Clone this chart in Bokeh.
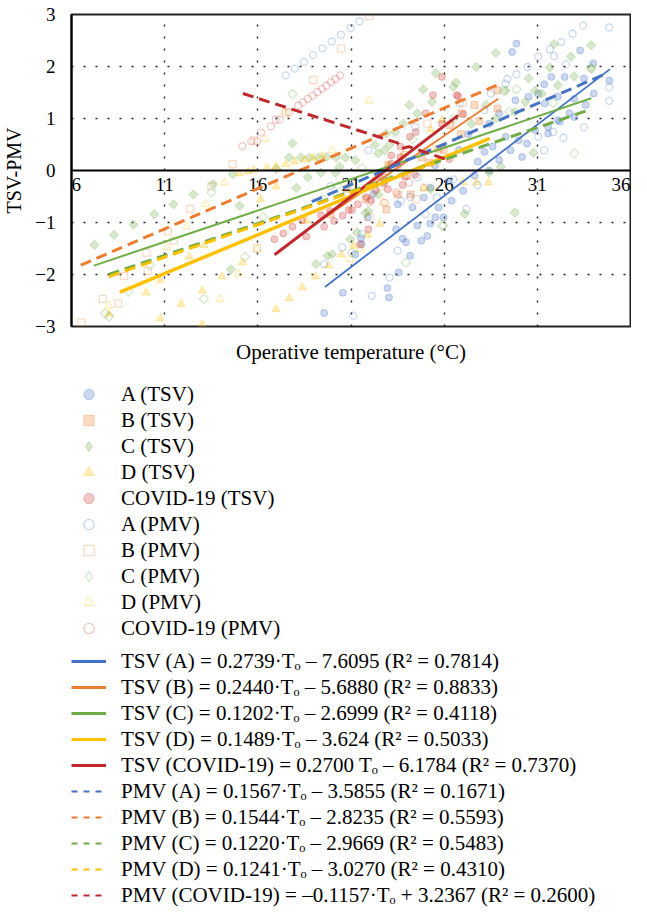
from bokeh.plotting import figure
from bokeh.models import (FixedTicker, Legend, LegendItem, Range1d, Span, ColumnDataSource)
from bokeh.core.properties import value
from bokeh.layouts import column
from bokeh.embed import file_html
from bokeh.resources import INLINE
import math

FONT = "Liberation Serif"

# ---------------- data ----------------
x_ticks = [6, 11, 16, 21, 26, 31, 36]
x_tick_labels = ["6", "11", "16", "21", "26", "31", "36"]
y_ticks = [-3, -2, -1, 0, 1, 2, 3]
y_tick_labels = ["\u22123", "\u22122", "\u22121", "0", "1", "2", "3"]
x_grid = [11, 16, 21, 26, 31]
y_grid = [-2, -1, 1, 2]

A_TSV_T = [19.56, 20.56, 22.95, 23.04, 24.17, 23.56, 23.77, 23.95, 24.77, 25.09, 25.26, 25.53, 24.56,
           23.42, 21.54, 21.58, 21.23, 24.3, 23.51, 24.91, 25.26, 25.7, 26.4, 27.02, 26.23, 25.97,
           27.63, 28.42, 30.18, 29.56, 30.44, 28.95, 27.8, 28.16, 28.6, 29.3, 30.0, 30.88, 31.58,
           32.2, 32.72, 33.6, 34.03, 32.98, 32.1, 31.05, 30.53, 31.4, 29.82, 28.95, 28.42, 33.5,
           34.86, 34.0, 32.46, 29.88, 29.65, 33.3, 31.37, 31.75, 32.1, 31.58, 32.98, 22.2, 22.8,
           21.9, 26.8, 25.5, 27.3]
A_TSV_V = [-2.74, -2.35, -2.26, -2.44, -1.64, -1.96, -1.31, -1.38, -1.35, -1.26, -1.02, -0.9, -1.06,
           -1.13, -1.3, -1.42, -1.61, -0.71, -0.65, -0.52, -0.33, -0.71, -0.58, -0.39, -0.2, -0.9,
           -0.1, 0.0, 0.26, 0.39, 0.52, 0.2, 0.17, 0.36, 0.46, 0.65, 0.58, 0.78, 0.71,
           0.94, 1.1, 1.26, 1.48, 1.38, 1.42, 1.48, 1.42, 1.29, 1.35, 1.1, 0.9, 1.77,
           1.73, 2.06, 1.8, 2.44, 2.28, 2.31, 1.66, 1.8, 0.97, 0.84, 1.03, -0.45, -0.2,
           -0.9, 0.4, 0.1, 0.7]
B_TSV_T = [27.63, 28.86, 26.93, 26.32, 25.97, 28.86, 25.7, 19.91, 23.51, 24.21, 22.5, 23.0, 24.8,
           21.8, 22.9, 26.9, 25.2, 20.8, 27.9]
B_TSV_V = [1.26, 1.54, 1.1, 0.87, 0.39, 1.19, 0.42, -0.84, -0.46, -0.46, -0.1, 0.1, 0.25,
           -0.55, -0.75, 0.7, 0.15, -0.35, 0.95]
C_TSV_T = [7.23, 8.28, 9.33, 10.44, 11.47, 12.54, 13.6, 14.65, 15.03, 14.56, 17.86, 17.68, 18.3,
           18.77, 19.26, 19.7, 20.2, 20.7, 20.39, 21.23, 22.28, 22.89, 23.37, 23.81, 24.12, 24.56,
           24.88, 25.56, 25.35, 22.8, 22.46, 23.07, 28.77, 27.72, 26.63, 26.49, 30.53, 32.1, 32.98,
           33.89, 33.89, 32.8, 31.9, 31.67, 30.88, 31.23, 30.35, 29.3, 29.79, 28.77, 27.46, 28.25,
           30.79, 29.04, 25.26, 21.93, 21.77, 19.12, 19.74, 19.99, 20.96, 21.32, 22.46, 23.07,
           18.07, 18.68, 19.39, 20.17, 27.1, 29.79, 28.42, 17.0]
C_TSV_V = [-1.43, -1.24, -1.04, -0.84, -0.65, -0.46, -0.26, -0.07, -0.68, -1.9, 0.52, 0.25, 0.25,
           0.25, 0.25, 0.26, 0.25, 0.25, 0.07, 0.2, 0.49, 0.71, 0.74, 0.9, 1.26, 1.1,
           1.56, 1.87, 1.32, 0.39, 0.33, 0.49, 2.26, 1.99, 1.69, 1.61, 1.77, 1.64, 1.81,
           2.41, 1.97, 2.19, 2.43, 1.98, 1.53, 1.48, 1.32, 1.54, 1.13, 1.0, 0.9, 1.26,
           0.34, 0.07, -0.36, -0.78, -0.82, -1.8, -1.64, -1.61, -1.32, -1.19, -0.46, -0.13,
           -0.33, -0.13, -0.04, -0.04, -0.83, -0.81, -0.04, 0.03]
D_TSV_T = [8.02, 10.77, 11.88, 10.0, 10.77, 12.32, 13.02, 14.07, 15.17, 13.1, 15.0, 15.47, 13.02,
           15.79, 16.49, 16.98, 17.49, 17.98, 18.51, 18.98, 19.47, 25.26, 25.88, 16.98, 17.68,
           18.38, 19.09, 19.79, 20.49, 21.14, 21.89, 22.54, 16.98, 16.14, 18.6, 24.91, 27.02,
           27.72, 28.38, 23.0, 22.2, 23.8]
D_TSV_V = [-2.76, -2.84, -2.57, -2.35, -2.11, -1.66, -2.31, -2.04, -1.77, -1.44, -0.06, -0.02, -2.96,
           0.01, 0.05, 0.08, 0.12, 0.17, 0.21, 0.24, 0.28, 0.79, 0.97, -2.67, -2.46,
           -2.25, -2.04, -1.83, -1.62, -1.45, -1.24, -1.03, -0.31, -0.55, -0.97, -0.34, -0.23,
           -0.23, -0.23, 0.1, -0.2, 0.3]
COV_TSV_T = [16.89, 17.37, 17.86, 18.6, 19.56, 20.09, 20.56, 20.88, 21.05, 18.38, 19.39, 19.88,
             21.37, 21.84, 22.07, 22.32, 22.77, 22.98, 23.77, 23.89, 24.44, 21.49, 21.93, 25.88,
             25.4, 24.16, 23.65, 23.16, 24.47, 25.0, 25.88, 23.65, 23.51, 23.16, 26.67, 27.02,
             26.28, 26.75]
COV_TSV_V = [-1.32, -1.21, -1.08, -1.27, -1.08, -0.97, -0.87, -0.76, -0.76, -0.96, -0.86, -0.78,
             -0.65, -0.51, -0.57, -0.38, -0.25, -0.36, -0.28, -0.12, -0.08, -1.42, -1.13, 1.8,
             1.45, 0.65, 0.46, 0.29, 0.74, 1.1, 0.9, 0.26, 0.13, 0.13, 1.45, 1.08,
             0.22, 1.43]

A_PMV_T = [17.49, 17.98, 18.47, 18.96, 19.47, 19.96, 20.46, 20.98, 21.46, 32.89, 33.46, 34.86,
           32.28, 31.67, 31.9, 31.05, 32.54, 29.88, 29.39, 34.86, 34.86, 33.5, 32.4, 31.84, 31.05,
           31.37, 30.47, 19.56, 20.53, 22.11, 21.11, 23.07, 21.58, 23.51, 24.17, 25.0, 25.61,
           24.56, 23.68, 27.19, 26.49, 27.8, 28.51, 28.16, 26.84, 29.3, 24.44, 21.93, 19.9]
A_PMV_V = [1.83, 1.96, 2.09, 2.22, 2.35, 2.48, 2.61, 2.74, 2.87, 2.63, 2.79, 2.75,
           2.47, 2.33, 2.2, 2.19, 2.04, 1.85, 1.76, 1.6, 1.34, 0.83, 0.63, 0.74, 0.65,
           0.39, 1.99, -1.8, -1.48, -2.41, -2.79, -2.06, -1.22, -1.54, -0.51, -0.84, -0.52,
           -0.13, -0.58, -0.74, -0.17, -0.28, 1.48, 1.16, 1.29, 1.67, 0.84, 0.39, -0.3]
B_PMV_T = [6.53, 7.68, 8.51, 8.82, 10.02, 10.09, 11.17, 11.49, 12.37, 13.51, 14.65, 15.79, 17.51,
           18.98, 20.47, 21.97, 15.96, 22.6, 23.9, 25.1, 27.0, 22.0, 24.5]
B_PMV_V = [-2.92, -2.47, -2.56, -2.03, -1.58, -1.93, -1.17, -1.35, -0.74, -0.3, 0.12, 0.58, 1.11,
           1.74, 2.35, 2.97, -1.49, -0.3, 0.3, 0.9, 1.3, -0.9, -0.55]
C_PMV_T = [17.86, 10.21, 9.07, 13.51, 13.1, 15.3, 29.88, 29.21, 29.51, 33.89, 31.84, 32.98, 23.95,
           25.88, 21.05, 25.97, 8.02, 7.8, 19.5, 20.3, 21.6, 24.3, 26.5, 16.3]
C_PMV_V = [1.47, -1.83, -2.33, -0.42, -2.47, -1.66, 1.56, 1.53, 1.13, 1.96, 1.3, 0.33, -1.77,
           -1.06, -1.58, -1.06, -2.81, -2.75, -0.55, -0.3, 0.05, 0.6, 1.0, -0.9]
D_PMV_T = [16.4, 20.0, 21.96, 12.17, 13.19, 11.12, 13.98, 14.95, 14.21, 20.96, 21.49, 15.96, 17.42,
           8.0, 22.7, 24.0, 25.3, 23.4]
D_PMV_V = [0.6, 0.39, 1.34, -1.08, -0.65, -1.48, -2.47, -1.99, -0.23, -1.71, -1.51, -1.51, 1.13,
           -2.6, -0.6, -0.1, 0.45, 0.05]
COV_PMV_T = [15.17, 15.65, 15.96, 16.17, 16.7, 16.96, 17.16, 17.67, 18.17, 18.42, 18.68, 18.95,
             19.19, 19.44, 19.68, 19.93, 20.17, 20.42, 22.81, 23.42, 24.91, 24.12, 22.72, 22.5,
             23.5, 22.0, 24.0]
COV_PMV_V = [0.47, 0.56, 0.56, 0.73, 0.85, 0.98, 0.98, 1.12, 1.25, 1.31, 1.38, 1.44,
             1.51, 1.57, 1.63, 1.70, 1.76, 1.83, -0.62, -0.42, -0.33, -0.23, -0.13, -0.1,
             0.1, -0.6, -0.1]

# regression lines (end points)
TSV_A_T, TSV_A_V = [19.6, 34.9], [-2.24, 1.95]
TSV_B_T, TSV_B_V = [19.5, 28.9], [-0.93, 1.38]
TSV_C_T, TSV_C_V = [7.2, 33.9], [-1.83, 1.39]
TSV_D_T, TSV_D_V = [8.6, 28.45], [-2.34, 0.62]
TSV_COV_T, TSV_COV_V = [16.9, 26.75], [-1.62, 1.06]
PMV_A_T, PMV_A_V = [18.9, 34.8], [-0.6, 1.88]
PMV_B_T, PMV_B_V = [6.5, 28.95], [-1.82, 1.66]
PMV_C_T, PMV_C_V = [8.0, 33.9], [-2.0, 1.18]
PMV_D_T, PMV_D_V = [8.0, 25.5], [-2.04, 0.14]
PMV_COV_T, PMV_COV_V = [15.2, 23.5, 23.7, 24.1, 26.3], [1.48, 0.53, 0.42, 0.46, 0.19]

scatter_labels = ["A (TSV)", "B (TSV)", "C (TSV)", "D (TSV)", "COVID-19 (TSV)",
                  "A (PMV)", "B (PMV)", "C (PMV)", "D (PMV)", "COVID-19 (PMV)"]
line_labels = [
    "TSV (A) = 0.2739\u00b7T\u2092 \u2013 7.6095 (R\u00b2 = 0.7814)",
    "TSV (B) = 0.2440\u00b7T\u2092 \u2013 5.6880 (R\u00b2 = 0.8833)",
    "TSV (C) = 0.1202\u00b7T\u2092 \u2013 2.6999 (R\u00b2 = 0.4118)",
    "TSV (D) = 0.1489\u00b7T\u2092 \u2013 3.624 (R\u00b2 = 0.5033)",
    "TSV (COVID-19) = 0.2700 T\u2092 \u2013 6.1784 (R\u00b2 = 0.7370)",
    "PMV (A) = 0.1567\u00b7T\u2092 \u2013 3.5855 (R\u00b2 = 0.1671)",
    "PMV (B) = 0.1544\u00b7T\u2092 \u2013 2.8235 (R\u00b2 = 0.5593)",
    "PMV (C) = 0.1220\u00b7T\u2092 \u2013 2.9669 (R\u00b2 = 0.5483)",
    "PMV (D) = 0.1241\u00b7T\u2092 \u2013 3.0270 (R\u00b2 = 0.4310)",
    "PMV (COVID-19) = \u20130.1157\u00b7T\u2092 + 3.2367 (R\u00b2 = 0.2600)",
]

# ---------------- styling ----------------
COLORS = ["#4472C4", "#ED7D31", "#70AD47", "#FFC000", "#D23A36"]
LINE_COLORS = ["#4472C4", "#ED7D31", "#70AD47", "#FFC000", "#C0282D"]
MARKERS = ["circle", "square", "square", "triangle", "circle"]
ANGLES = [0, 0, math.pi / 4, 0, 0]
KEY_MARKERS = ["circle", "square", "diamond", "triangle", "circle"]
MSIZE = [7, 7, 6.5, 8, 7]

p = figure(width=631, height=378,
           x_range=Range1d(6, 36), y_range=Range1d(-3, 3),
           output_backend="svg", toolbar_location=None,
           min_border_left=61, min_border_top=14, min_border_right=1, min_border_bottom=52,
           background_fill_color="white", border_fill_color="white",
           outline_line_color="#222222", outline_line_width=2)

xa = p.xaxis[0]
xa.ticker = FixedTicker(ticks=[])
xa.axis_line_color = None
xa.major_tick_line_color = None
xa.minor_tick_line_color = None
xa.major_label_text_font_size = "0px"
xa.axis_label = "Operative temperature (\u00b0C)"
xa.axis_label_text_font = FONT
xa.axis_label_text_font_size = "21px"
xa.axis_label_text_font_style = "normal"
xa.axis_label_text_color = "black"
xa.axis_label_standoff = 13

ya = p.yaxis[0]
ya.ticker = FixedTicker(ticks=y_ticks)
ya.major_label_overrides = {t: s for t, s in zip(y_ticks, y_tick_labels)}
ya.axis_line_color = "black"
ya.axis_line_width = 2
ya.major_tick_line_color = None
ya.minor_tick_line_color = None
ya.major_label_standoff = 10
ya.major_label_text_font = FONT
ya.major_label_text_font_size = "19px"
ya.major_label_text_color = "black"
ya.axis_label = "TSV-PMV"
ya.axis_label_text_font = FONT
ya.axis_label_text_font_size = "20px"
ya.axis_label_text_font_style = "normal"
ya.axis_label_text_color = "black"
ya.axis_label_standoff = 7

p.xgrid.ticker = FixedTicker(ticks=x_grid)
p.ygrid.ticker = FixedTicker(ticks=y_grid)
for g in (p.xgrid, p.ygrid):
    g.grid_line_color = "#222222"
    g.grid_line_dash = "2 10"
    g.grid_line_width = 1.4

# horizontal axis line through zero, with its tick labels
p.add_layout(Span(location=0, dimension="width", line_color="black", line_width=2))
tick_src = ColumnDataSource(dict(x=x_ticks, y=[0] * len(x_ticks), label=x_tick_labels,
                                 align=["left"] + ["center"] * (len(x_ticks) - 2) + ["right"]))
p.text(x="x", y="y", text="label", source=tick_src, text_align="align",
       text_baseline="top", y_offset=7, text_font=value(FONT), text_font_size="19px",
       text_color="black")

tsv_sets = [(A_TSV_T, A_TSV_V), (B_TSV_T, B_TSV_V), (C_TSV_T, C_TSV_V),
            (D_TSV_T, D_TSV_V), (COV_TSV_T, COV_TSV_V)]
pmv_sets = [(A_PMV_T, A_PMV_V), (B_PMV_T, B_PMV_V), (C_PMV_T, C_PMV_V),
            (D_PMV_T, D_PMV_V), (COV_PMV_T, COV_PMV_V)]


def tsv_style(i, key=False):
    return dict(marker=(KEY_MARKERS if key else MARKERS)[i], angle=0 if key else ANGLES[i],
                fill_color=COLORS[i], fill_alpha=0.28,
                line_color=COLORS[i], line_alpha=0.3, line_width=1)


def pmv_style(i, key=False):
    return dict(marker=(KEY_MARKERS if key else MARKERS)[i], angle=0 if key else ANGLES[i],
                fill_color=None, line_color=COLORS[i], line_alpha=0.28, line_width=1.3)


for i, (t, v) in enumerate(tsv_sets):
    p.scatter(t, v, size=MSIZE[i], **tsv_style(i))
for i, (t, v) in enumerate(pmv_sets):
    p.scatter(t, v, size=MSIZE[i], **pmv_style(i))

tsv_lines = [(TSV_A_T, TSV_A_V, 1.8), (TSV_B_T, TSV_B_V, 1.8), (TSV_C_T, TSV_C_V, 2.0),
             (TSV_D_T, TSV_D_V, 3.5), (TSV_COV_T, TSV_COV_V, 3.0)]
pmv_lines = [(PMV_A_T, PMV_A_V), (PMV_B_T, PMV_B_V), (PMV_C_T, PMV_C_V),
             (PMV_D_T, PMV_D_V), (PMV_COV_T, PMV_COV_V)]
for i, (t, v, w) in enumerate(tsv_lines):
    p.line(t, v, line_color=LINE_COLORS[i], line_width=w)
for i, (t, v) in enumerate(pmv_lines):
    p.line(t, v, line_color=LINE_COLORS[i], line_width=3, line_dash="11 6")

# ---------------- legend panels (figures under the chart) ----------------
LEG = dict(location="top_left", orientation="vertical", border_line_color=None,
           background_fill_alpha=0, label_text_font=FONT, label_text_font_size="21px",
           label_text_color="black", glyph_width=35, glyph_height=26, label_height=26,
           label_standoff=15, spacing=0, padding=0, margin=0)


def legend_panel(height, top):
    # the series are drawn again here only as legend keys: ranges keep them out of view
    f = figure(width=631, height=height, x_range=Range1d(-200, -100), y_range=Range1d(-200, -100),
               x_axis_type=None, y_axis_type=None, output_backend="svg",
               toolbar_location=None, min_border_left=62, min_border_top=top,
               min_border_right=0, min_border_bottom=0, outline_line_color=None,
               background_fill_color="white", border_fill_color="white")
    f.grid.visible = False
    return f


q1 = legend_panel(270, 3)
keys1 = []
for i, (t, v) in enumerate(tsv_sets):
    keys1.append(q1.scatter(t, v, **tsv_style(i, key=True)))
for i, (t, v) in enumerate(pmv_sets):
    keys1.append(q1.scatter(t, v, **pmv_style(i, key=True)))
q1.add_layout(Legend(items=[LegendItem(label=l, renderers=[r])
                            for l, r in zip(scatter_labels, keys1)], **LEG))

q2 = legend_panel(262, 0)
keys2 = []
for i, (t, v, w) in enumerate(tsv_lines):
    keys2.append(q2.line(t, v, line_color=LINE_COLORS[i], line_width=3))
for i, (t, v) in enumerate(pmv_lines):
    keys2.append(q2.line(t, v, line_color=LINE_COLORS[i], line_width=2, line_dash="6 6"))
q2.add_layout(Legend(items=[LegendItem(label=l, renderers=[r])
                            for l, r in zip(line_labels, keys2)], **LEG))

layout = column(p, q1, q2, spacing=0)
html = file_html(layout, INLINE)
open("out.html", "w").write(html)
